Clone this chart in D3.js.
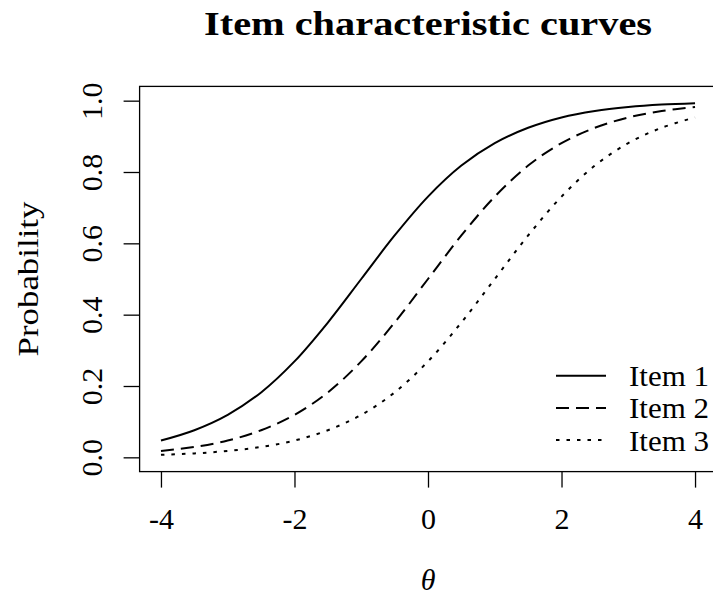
<!DOCTYPE html>
<html>
<head>
<meta charset="utf-8">
<script src="https://cdn.jsdelivr.net/npm/d3@7"></script>
<style>
  body { margin: 0; background: #fff; }
  svg { display: block; }
  text { font-family: "Liberation Serif", "Times New Roman", serif; fill: #000; }
</style>
</head>
<body>
<svg id="chart" width="713" height="597"></svg>
<script>
// Ability grid and probability of a correct response for each item
const theta = [-4, -3.5, -3, -2.5, -2, -1.5, -1, -0.5, 0, 0.5, 1, 1.5, 2, 2.5, 3, 3.5, 4];
const item1 = [0.047, 0.076, 0.119, 0.182, 0.269, 0.378, 0.500, 0.622, 0.731, 0.818, 0.881, 0.924, 0.953, 0.971, 0.982, 0.989, 0.993];
const item2 = [0.018, 0.029, 0.047, 0.076, 0.119, 0.182, 0.269, 0.378, 0.500, 0.622, 0.731, 0.818, 0.881, 0.924, 0.953, 0.971, 0.982];
const item3 = [0.007, 0.011, 0.018, 0.029, 0.047, 0.076, 0.119, 0.182, 0.269, 0.378, 0.500, 0.622, 0.731, 0.818, 0.881, 0.924, 0.953];
const seriesNames = ["Item 1", "Item 2", "Item 3"];
const xTicks = [-4, -2, 0, 2, 4];
const xTickLabels = ["-4", "-2", "0", "2", "4"];
const yTicks = [0, 0.2, 0.4, 0.6, 0.8, 1.0];
const yTickLabels = ["0.0", "0.2", "0.4", "0.6", "0.8", "1.0"];

const series = [item1, item2, item3].map((vals, i) => ({
  name: seriesNames[i],
  points: theta.map((t, j) => ({ t, p: vals[j] }))
}));
const dashes = [null, "13,7", "3.5,7"];

const svg = d3.select("#chart");
const plot = { left: 139.6, right: 716.4, top: 86.4, bottom: 471.6 };

// axis ranges padded by 4% like base R graphics
const x = d3.scaleLinear().domain([-4.32, 4.32]).range([plot.left, plot.right]);
const y = d3.scaleLinear().domain([-0.04, 1.04]).range([plot.bottom, plot.top]);

// title
svg.append("text")
  .attr("x", (plot.left + plot.right) / 2).attr("y", 35)
  .attr("text-anchor", "middle")
  .style("font-size", "34px").style("font-weight", "bold")
  .attr("textLength", 448).attr("lengthAdjust", "spacingAndGlyphs")
  .text("Item characteristic curves");

// x axis
const xAxis = svg.append("g")
  .attr("transform", `translate(0,${plot.bottom})`)
  .call(d3.axisBottom(x).tickValues(xTicks).tickSize(16)
    .tickFormat((d, i) => xTickLabels[i]));
xAxis.select(".domain").remove();
xAxis.selectAll(".tick line").attr("stroke", "#000").attr("stroke-width", 1.3);
xAxis.selectAll(".tick text")
  .attr("y", 57.4).attr("dy", 0)
  .style("font-size", "30px").attr("font-family", null);

// y axis
const yAxis = svg.append("g")
  .attr("transform", `translate(${plot.left},0)`)
  .call(d3.axisLeft(y).tickValues(yTicks).tickSize(16)
    .tickFormat((d, i) => yTickLabels[i]));
yAxis.select(".domain").remove();
yAxis.selectAll(".tick line").attr("stroke", "#000").attr("stroke-width", 1.3);
yAxis.selectAll(".tick text")
  .attr("x", 0).attr("y", 0).attr("dy", 0)
  .attr("text-anchor", "middle")
  .attr("transform", "translate(-37.6,0) rotate(-90)")
  .style("font-size", "30px").attr("font-family", null);

// axis titles
svg.append("text")
  .attr("transform", `translate(38,${(plot.top + plot.bottom) / 2}) rotate(-90)`)
  .attr("text-anchor", "middle")
  .style("font-size", "30px")
  .attr("textLength", 155).attr("lengthAdjust", "spacingAndGlyphs")
  .text("Probability");

svg.append("text")
  .attr("x", (plot.left + plot.right) / 2).attr("y", 590)
  .attr("text-anchor", "middle")
  .style("font-size", "30px").style("font-style", "italic")
  .text("θ");

// curves
const line = d3.line()
  .x(d => x(d.t)).y(d => y(d.p))
  .curve(d3.curveCatmullRom.alpha(0.5));

svg.append("g").selectAll("path")
  .data(series).join("path")
  .attr("d", d => line(d.points))
  .attr("fill", "none").attr("stroke", "#000")
  .attr("stroke-width", 2)
  .attr("stroke-dasharray", (d, i) => dashes[i]);

// plot frame
svg.append("rect")
  .attr("x", plot.left).attr("y", plot.top)
  .attr("width", plot.right - plot.left).attr("height", plot.bottom - plot.top)
  .attr("fill", "none").attr("stroke", "#000").attr("stroke-width", 1.3);

// legend
const legend = svg.append("g");
const legendRows = [375.7, 407.9, 440];
series.forEach((s, i) => {
  legend.append("line")
    .attr("x1", 556).attr("x2", 606)
    .attr("y1", legendRows[i]).attr("y2", legendRows[i])
    .attr("stroke", "#000").attr("stroke-width", 2)
    .attr("stroke-dasharray", dashes[i]);
  legend.append("text")
    .attr("x", 629).attr("y", legendRows[i] + 10.5)
    .style("font-size", "29px")
    .attr("textLength", 80).attr("lengthAdjust", "spacingAndGlyphs")
    .text(s.name);
});
</script>
</body>
</html>
